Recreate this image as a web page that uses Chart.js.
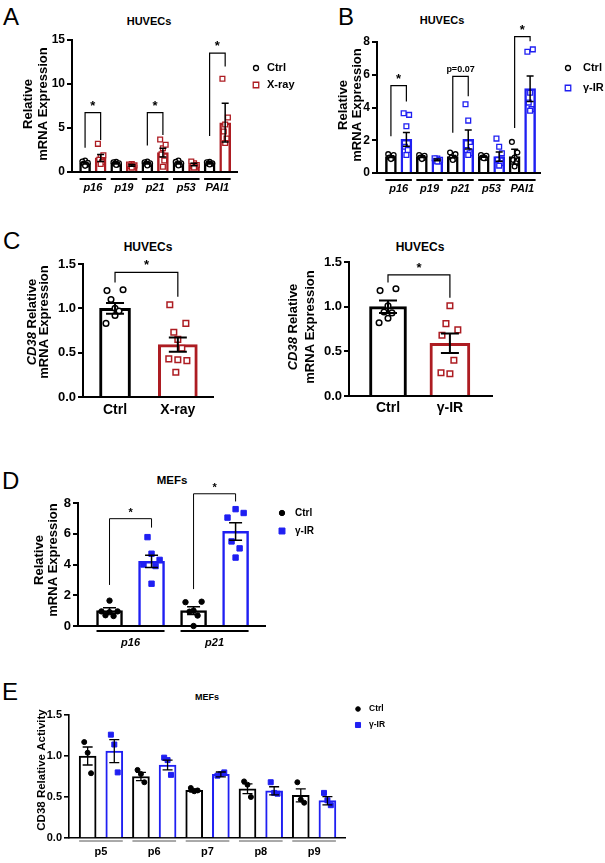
<!DOCTYPE html>
<html>
<head>
<meta charset="utf-8">
<script src="https://cdn.jsdelivr.net/npm/chart.js@4.4.0/dist/chart.umd.min.js"></script>
<style>
  body { margin: 0; background: #fff; width: 605px; height: 863px; position: relative; overflow: hidden;
         font-family: Arial, "Liberation Sans", sans-serif; }
  canvas { position: absolute; }
  .lt { position: absolute; font-size: 24px; line-height: 24px; color: #000; }
  .tt { position: absolute; font-weight: bold; font-size: 11px; transform: translate(-50%, -50%); white-space: nowrap; }
</style>
</head>
<body>
<div class="lt" style="left:3px;top:5px">A</div>
<div class="lt" style="left:338px;top:5px">B</div>
<div class="lt" style="left:3px;top:229px">C</div>
<div class="lt" style="left:2px;top:469px">D</div>
<div class="lt" style="left:2px;top:680px">E</div>
<div class="tt" style="left:149px;top:21px">HUVECs</div>
<div class="tt" style="left:442px;top:20px">HUVECs</div>
<div class="tt" style="left:148px;top:247px;font-size:12px">HUVECs</div>
<div class="tt" style="left:420px;top:247px;font-size:12px">HUVECs</div>
<div class="tt" style="left:172px;top:480px;font-size:11.5px">MEFs</div>
<div class="tt" style="left:207px;top:697px;font-size:9px">MEFs</div>

<script>
// ---- A: HUVECs, X-ray ----
const genesA = ["p16", "p19", "p21", "p53", "PAI1"];
const ctrlA = [1.0, 1.0, 1.0, 1.0, 1.0];
const ctrlErrA = [0.1, 0.08, 0.08, 0.1, 0.08];
const ctrlPtsA = [
  [1.3, 1.2, 1.05, 0.95, 0.8, 0.7],
  [1.15, 1.1, 1.0, 0.95, 0.85, 0.8],
  [1.2, 1.1, 1.0, 0.95, 0.85, 0.75],
  [1.3, 1.15, 1.0, 0.9, 0.8, 0.75],
  [1.15, 1.1, 1.0, 0.95, 0.9, 0.85]
];
const xrayA = [1.6, 0.75, 2.2, 0.85, 5.6];
const xrayErrA = [0.4, 0.1, 0.5, 0.15, 2.2];
const xrayPtsA = [
  [1.7, 3.2, 1.9, 1.4, 1.1, 0.9],
  [0.9, 0.85, 0.75, 0.7, 0.6, 0.5],
  [2.7, 3.7, 3.1, 2.0, 1.3, 0.6],
  [1.0, 1.2, 0.8, 0.7, 0.6, 0.5],
  [5.4, 10.6, 6.2, 4.6, 3.8, 3.3]
];

// ---- B: HUVECs, gamma-IR ----
const ctrlB = [1.0, 1.0, 1.0, 1.0, 1.0];
const ctrlErrB = [0.05, 0.05, 0.07, 0.04, 0.45];
const ctrlPtsB = [
  [1.0, 1.15, 1.1, 0.95, 0.9, 0.85],
  [1.0, 1.1, 1.05, 0.95, 0.9, 0.85],
  [1.05, 1.25, 1.15, 0.95, 0.85, 0.8],
  [1.0, 1.1, 1.05, 0.95, 0.9, 0.9],
  [0.95, 1.9, 1.25, 0.8, 0.6, 0.4]
];
const gammaB = [2.05, 0.8, 2.05, 1.0, 5.15];
const gammaErrB = [0.42, 0.05, 0.58, 0.28, 0.78];
const gammaPtsB = [
  [2.85, 3.65, 3.55, 1.6, 1.4, 1.1],
  [0.88, 0.9, 0.8, 0.75, 0.7, 0.7],
  [3.2, 4.2, 1.6, 1.4, 1.2, 1.1],
  [1.6, 2.1, 1.2, 0.8, 0.6, 0.45],
  [4.9, 7.4, 7.55, 4.3, 3.9, 3.8]
];

// ---- C: CD38 in HUVECs ----
const groupsC1 = ["Ctrl", "X-ray"];
const ctrlC1 = [1.0], ctrlErrC1 = [0.06];
const ctrlPtsC1 = [[1.0, 1.2, 1.21, 1.1, 0.97, 0.92, 0.83]];
const xrayC1 = [0.59], xrayErrC1 = [0.08];
const xrayPtsC1 = [[0.65, 1.04, 0.83, 0.73, 0.55, 0.42, 0.43, 0.41, 0.28]];

const groupsC2 = ["Ctrl", "γ-IR"];
const ctrlC2 = [1.0], ctrlErrC2 = [0.07];
const ctrlPtsC2 = [[1.01, 1.18, 1.2, 0.94, 0.93, 0.87, 0.82]];
const gammaC2 = [0.59], gammaErrC2 = [0.11];
const gammaPtsC2 = [[1.01, 0.68, 0.74, 0.81, 0.4, 0.25, 0.26]];

// ---- D: MEFs ----
const genesD = ["p16", "p21"];
const ctrlD = [1.0, 1.0], ctrlErrD = [0.18, 0.25];
const ctrlPtsD = [[1.65, 0.95, 0.95, 0.7, 0.65, 0.9], [1.0, 1.55, 1.58, 0.93, 0.68, 0.0]];
const gammaD = [4.2, 6.15], gammaErrD = [0.4, 0.57];
const gammaPtsD = [[4.7, 4.0, 4.3, 5.78, 3.9, 2.75], [7.6, 7.05, 7.35, 5.5, 5.05, 4.45]];

// ---- E: CD38 activity, MEFs ----
const passages = ["p5", "p6", "p7", "p8", "p9"];
const ctrlE = [1.0, 0.75, 0.58, 0.6, 0.52];
const ctrlErrE = [0.11, 0.05, 0.02, 0.06, 0.08];
const ctrlPtsE = [[1.04, 1.17, 0.79], [0.78, 0.83, 0.68], [0.57, 0.61, 0.58], [0.65, 0.69, 0.5], [0.47, 0.68, 0.43]];
const gammaE = [1.06, 0.89, 0.775, 0.575, 0.455];
const gammaErrE = [0.14, 0.06, 0.03, 0.05, 0.05];
const gammaPtsE = [[1.14, 1.26, 0.8], [0.95, 0.98, 0.77], [0.78, 0.76, 0.8], [0.55, 0.68, 0.54], [0.46, 0.55, 0.4]];

const JIT = [0, -0.8, 0.8, -0.4, 0.4, 0, -0.9, 0.9, -0.2];
const RED = "#ad1c22", BLUE = "#1f1ff2", BLK = "#000";
const FONT = 'Arial, "Liberation Sans", sans-serif';
Chart.defaults.font.family = FONT;

function fnt(size, style) {
  return { family: FONT, size: size, weight: "bold", style: style || "normal" };
}

function marker(ctx, style, filled, color, x, y, r, bw) {
  ctx.save();
  ctx.strokeStyle = color; ctx.fillStyle = filled ? color : "#fff"; ctx.lineWidth = bw;
  ctx.beginPath();
  if (style === "rect") ctx.rect(x - r, y - r, 2 * r, 2 * r);
  else ctx.arc(x, y, r, 0, Math.PI * 2);
  ctx.fill(); ctx.stroke();
  ctx.restore();
}

function panel(o) {
  const cv = document.createElement("canvas");
  cv.width = o.w; cv.height = o.h;
  Object.assign(cv.style, { left: o.left + "px", top: o.top + "px", width: o.w + "px", height: o.h + "px" });
  document.body.appendChild(cv);

  const datasets = [];
  o.series.forEach(s => {
    datasets.push({
      type: "bar",
      data: s.means.map((m, i) => ({ x: o.pos[i] + s.shift, y: m })),
      backgroundColor: "#fff", borderColor: s.color, borderWidth: o.bw,
      barThickness: s.barW || o.barW, grouped: false, order: 2
    });
    const pts = [];
    s.pts.forEach((arr, i) => arr.forEach((v, k) => pts.push({ x: o.pos[i] + s.shift + JIT[k] * o.spread, y: v })));
    datasets.push({
      type: "scatter", data: pts, pointStyle: s.style,
      pointRadius: s.style === "rect" ? o.ptR * 1.41 : o.ptR,
      pointBackgroundColor: o.filled ? s.color : "#fff",
      pointBorderColor: s.color, pointBorderWidth: o.ptBW, order: 1, clip: false
    });
  });

  const deco = {
    id: "deco",
    afterDatasetsDraw(chart) {
      const ctx = chart.ctx, xs = chart.scales.x, ys = chart.scales.y;
      ctx.save();
      ctx.strokeStyle = "#000"; ctx.lineWidth = o.errLW;
      o.series.forEach(s => s.means.forEach((m, i) => {
        const x = xs.getPixelForValue(o.pos[i] + s.shift);
        const yt = ys.getPixelForValue(m + s.errs[i]);
        const yb = ys.getPixelForValue(Math.max(0, m - s.errs[i]));
        const c = o.capW / 2;
        ctx.beginPath();
        ctx.moveTo(x, yt); ctx.lineTo(x, yb);
        ctx.moveTo(x - c, yt); ctx.lineTo(x + c, yt);
        ctx.moveTo(x - c, yb); ctx.lineTo(x + c, yb);
        ctx.stroke();
      }));
      ctx.restore();
    },
    afterDraw(chart) {
      const ctx = chart.ctx, xs = chart.scales.x, ys = chart.scales.y, area = chart.chartArea;
      ctx.save();
      // group underlines
      if (o.under) {
        ctx.strokeStyle = o.under.color; ctx.lineWidth = o.under.lw;
        const s0 = o.series[0], s1 = o.series[o.series.length - 1];
        o.pos.forEach(p => {
          const xl = xs.getPixelForValue(p + s0.shift) - o.barW / 2;
          const xr = xs.getPixelForValue(p + s1.shift) + o.barW / 2;
          const y = area.bottom + o.under.dy;
          ctx.beginPath(); ctx.moveTo(xl, y); ctx.lineTo(xr, y); ctx.stroke();
        });
      }
      // significance brackets
      ctx.strokeStyle = "#000"; ctx.fillStyle = "#000"; ctx.lineWidth = o.brLW || 1.2;
      (o.brackets || []).forEach(b => {
        const x1 = xs.getPixelForValue(b.x1), x2 = xs.getPixelForValue(b.x2);
        const yt = ys.getPixelForValue(b.top);
        ctx.beginPath();
        ctx.moveTo(x1, ys.getPixelForValue(b.y1)); ctx.lineTo(x1, yt);
        ctx.lineTo(x2, yt); ctx.lineTo(x2, ys.getPixelForValue(b.y2));
        ctx.stroke();
        const star = b.label === "*";
        ctx.font = "bold " + (star ? o.starSize : 9) + "px " + FONT;
        ctx.textAlign = "center"; ctx.textBaseline = "bottom";
        ctx.fillText(b.label, (x1 + x2) / 2, yt - (star ? 0 : 2));
      });
      // y axis title
      const t = o.yTitle;
      t.lines.forEach((segs, li) => {
        ctx.save();
        ctx.translate(t.xs[li], t.cy); ctx.rotate(-Math.PI / 2);
        const fonts = segs.map(sg => (sg.it ? "italic " : "") + "bold " + t.size + "px " + FONT);
        let tot = 0;
        segs.forEach((sg, i) => { ctx.font = fonts[i]; tot += ctx.measureText(sg.t).width; });
        let x = -tot / 2;
        ctx.textAlign = "left"; ctx.textBaseline = "middle";
        segs.forEach((sg, i) => { ctx.font = fonts[i]; ctx.fillText(sg.t, x, 0); x += ctx.measureText(sg.t).width; });
        ctx.restore();
      });
      // legend
      if (o.legend) {
        const L = o.legend;
        o.series.forEach((s, k) => {
          const y = L.y + k * L.dy;
          const r = s.style === "rect" ? L.r * 1.1 : L.r;
          marker(ctx, s.style, o.filled, s.color, L.x, y, r, o.ptBW);
          ctx.fillStyle = "#000"; ctx.font = "bold " + L.size + "px " + FONT;
          ctx.textAlign = "left"; ctx.textBaseline = "middle";
          ctx.fillText(s.name, L.x + L.gap, y);
        });
      }
      ctx.restore();
    }
  };

  new Chart(cv, {
    type: "bar",
    data: { datasets: datasets },
    options: {
      responsive: false, animation: false, devicePixelRatio: 1,
      layout: { padding: { top: o.padT, right: o.padR, left: 0, bottom: 0 }, autoPadding: false },
      plugins: { legend: { display: false }, tooltip: { enabled: false } },
      scales: {
        x: {
          type: "linear", min: o.xmin, max: o.xmax, offset: false,
          afterFit: sc => { sc.height = o.xH; },
          afterBuildTicks: sc => { sc.ticks = o.ticksAt.map(v => ({ value: v })); },
          ticks: {
            callback: (v, i) => o.labels[i], font: fnt(o.xFont, o.italic ? "italic" : "normal"),
            color: "#000", padding: o.xPad, autoSkip: false, maxRotation: 0
          },
          grid: { display: false, drawTicks: false, offset: false },
          border: { color: "#000", width: o.axLW }
        },
        y: {
          min: 0, max: o.ymax,
          afterFit: sc => { sc.width = o.yW; },
          ticks: { stepSize: o.step, callback: v => v.toFixed(o.dec), font: fnt(o.yFont), color: "#000", padding: 2 },
          grid: { drawOnChartArea: false, color: "#000", lineWidth: o.axLW, tickLength: 5 },
          border: { color: "#000", width: o.axLW }
        }
      }
    },
    plugins: [deco]
  });
}

const titleRel = [[{ t: "Relative" }], [{ t: "mRNA Expression" }]];
const titleCD38 = [[{ t: "CD38", it: true }, { t: " Relative" }], [{ t: "mRNA Expression" }]];
const idx5 = [0, 1, 2, 3, 4];

// A
panel({
  left: 0, top: 0, w: 300, h: 200, yW: 72, padT: 40, padR: 63, xH: 28,
  xmin: -0.67, xmax: 4.63, ymax: 15, step: 5, dec: 0,
  pos: idx5, ticksAt: idx5, labels: genesA, italic: true, xFont: 11, xPad: 9, yFont: 12,
  barW: 11, bw: 2.5, capW: 7, errLW: 1.5, spread: 0.11, ptR: 2.4, ptBW: 1.3, filled: false, axLW: 2,
  series: [
    { name: "Ctrl", shift: -0.25, color: BLK, means: ctrlA, errs: ctrlErrA, pts: ctrlPtsA, style: "circle" },
    { name: "X-ray", shift: 0.25, color: RED, means: xrayA, errs: xrayErrA, pts: xrayPtsA, style: "rect" }
  ],
  under: { dy: 7, lw: 2, color: "#000" },
  brackets: [
    { x1: -0.25, x2: 0.25, top: 6.75, y1: 2.75, y2: 3.65, label: "*" },
    { x1: 1.75, x2: 2.25, top: 6.75, y1: 3.0, y2: 4.2, label: "*" },
    { x1: 3.75, x2: 4.25, top: 13.5, y1: 4.1, y2: 12.0, label: "*" }
  ],
  starSize: 13,
  yTitle: { lines: titleRel, xs: [28, 43], cy: 104, size: 13 },
  legend: { x: 256, y: 68, dy: 17, size: 11, r: 2.5, gap: 11 }
});

// B
panel({
  left: 300, top: 0, w: 305, h: 200, yW: 77, padT: 42, padR: 65, xH: 27,
  xmin: -0.70, xmax: 4.57, ymax: 8, step: 2, dec: 0,
  pos: idx5, ticksAt: idx5, labels: genesA, italic: true, xFont: 11, xPad: 9, yFont: 12,
  barW: 11, bw: 2.5, capW: 7, errLW: 1.5, spread: 0.11, ptR: 2.4, ptBW: 1.3, filled: false, axLW: 2,
  series: [
    { name: "Ctrl", shift: -0.25, color: BLK, means: ctrlB, errs: ctrlErrB, pts: ctrlPtsB, style: "circle" },
    { name: "γ-IR", shift: 0.25, color: BLUE, means: gammaB, errs: gammaErrB, pts: gammaPtsB, style: "rect" }
  ],
  under: { dy: 7, lw: 2, color: "#000" },
  brackets: [
    { x1: -0.25, x2: 0.25, top: 5.33, y1: 2.24, y2: 4.37, label: "*" },
    { x1: 1.75, x2: 2.25, top: 5.9, y1: 2.46, y2: 4.68, label: "p=0.07" },
    { x1: 3.75, x2: 4.25, top: 8.33, y1: 2.75, y2: 8.04, label: "*" }
  ],
  starSize: 13,
  yTitle: { lines: titleRel, xs: [43, 57], cy: 105, size: 13 },
  legend: { x: 268, y: 68, dy: 20, size: 11, r: 2.5, gap: 15 }
});

// C left
panel({
  left: 0, top: 200, w: 300, h: 230, yW: 83, padT: 64, padR: 87, xH: 33,
  xmin: -0.51, xmax: 1.56, ymax: 1.5, step: 0.5, dec: 1,
  pos: [0], ticksAt: [0, 1], labels: groupsC1, italic: false, xFont: 14, xPad: 5, yFont: 13,
  barW: 34, bw: 3, capW: 18, errLW: 2, spread: 0.16, ptR: 2.8, ptBW: 1.5, filled: false, axLW: 2,
  series: [
    { name: "Ctrl", shift: 0, color: BLK, means: ctrlC1, errs: ctrlErrC1, pts: ctrlPtsC1, style: "circle", barW: 31 },
    { name: "X-ray", shift: 1, color: RED, means: xrayC1, errs: xrayErrC1, pts: xrayPtsC1, style: "rect", barW: 39 }
  ],
  brackets: [{ x1: 0, x2: 1, top: 1.406, y1: 1.29, y2: 1.13, label: "*" }],
  starSize: 13,
  yTitle: { lines: titleCD38, xs: [32, 44], cy: 122, size: 13 }
});

// C right
panel({
  left: 280, top: 200, w: 325, h: 230, yW: 69, padT: 62, padR: 113, xH: 34,
  xmin: -0.63, xmax: 1.68, ymax: 1.5, step: 0.5, dec: 1,
  pos: [0], ticksAt: [0, 1], labels: groupsC2, italic: false, xFont: 14, xPad: 4, yFont: 13,
  barW: 38, bw: 3, capW: 18, errLW: 2, spread: 0.16, ptR: 2.8, ptBW: 1.5, filled: false, axLW: 2,
  series: [
    { name: "Ctrl", shift: 0, color: BLK, means: ctrlC2, errs: ctrlErrC2, pts: ctrlPtsC2, style: "circle", barW: 37 },
    { name: "γ-IR", shift: 1, color: RED, means: gammaC2, errs: gammaErrC2, pts: gammaPtsC2, style: "rect", barW: 40 }
  ],
  brackets: [{ x1: 0, x2: 1, top: 1.355, y1: 1.27, y2: 1.10, label: "*" }],
  starSize: 13,
  yTitle: { lines: titleCD38, xs: [13, 30], cy: 127, size: 13 }
});

// D
panel({
  left: 0, top: 465, w: 320, h: 195, yW: 78, padT: 38, padR: 55, xH: 34,
  xmin: -0.625, xmax: 1.6, ymax: 8, step: 2, dec: 0,
  pos: [0, 1], ticksAt: [0, 1], labels: genesD, italic: true, xFont: 11, xPad: 10, yFont: 13,
  barW: 26, bw: 2.5, capW: 13, errLW: 1.5, spread: 0.12, ptR: 2.7, ptBW: 1, filled: true, axLW: 2,
  series: [
    { name: "Ctrl", shift: -0.25, color: BLK, means: ctrlD, errs: ctrlErrD, pts: ctrlPtsD, style: "circle" },
    { name: "γ-IR", shift: 0.25, color: BLUE, means: gammaD, errs: gammaErrD, pts: gammaPtsD, style: "rect" }
  ],
  under: { dy: 5, lw: 2, color: "#000" },
  brackets: [
    { x1: -0.25, x2: 0.25, top: 6.98, y1: 2.67, y2: 6.4, label: "*" },
    { x1: 0.75, x2: 1.25, top: 8.6, y1: 2.4, y2: 8.1, label: "*" }
  ],
  brLW: 1, starSize: 11,
  yTitle: { lines: titleRel, xs: [39, 53], cy: 95, size: 13 },
  legend: { x: 282, y: 48, dy: 18, size: 10, r: 2.7, gap: 13 }
});

// E
panel({
  left: 0, top: 675, w: 605, h: 188, yW: 69, padT: 40, padR: 260, xH: 25,
  xmin: -0.6, xmax: 4.58, ymax: 1.5, step: 0.5, dec: 1,
  pos: idx5, ticksAt: idx5, labels: passages, italic: false, xFont: 11, xPad: 7, yFont: 11,
  barW: 17, bw: 2, capW: 10, errLW: 1.3, spread: 0.08, ptR: 2.5, ptBW: 1, filled: true, axLW: 1.6,
  series: [
    { name: "Ctrl", shift: -0.25, color: BLK, means: ctrlE, errs: ctrlErrE, pts: ctrlPtsE, style: "circle" },
    { name: "γ-IR", shift: 0.25, color: BLUE, means: gammaE, errs: gammaErrE, pts: gammaPtsE, style: "rect" }
  ],
  under: { dy: 3, lw: 1, color: "#555" },
  yTitle: { lines: [[{ t: "CD38 Relative Activity" }]], xs: [42], cy: 95, size: 11.5 },
  legend: { x: 358, y: 34, dy: 16, size: 8.5, r: 2.3, gap: 11 }
});
</script>
</body>
</html>
